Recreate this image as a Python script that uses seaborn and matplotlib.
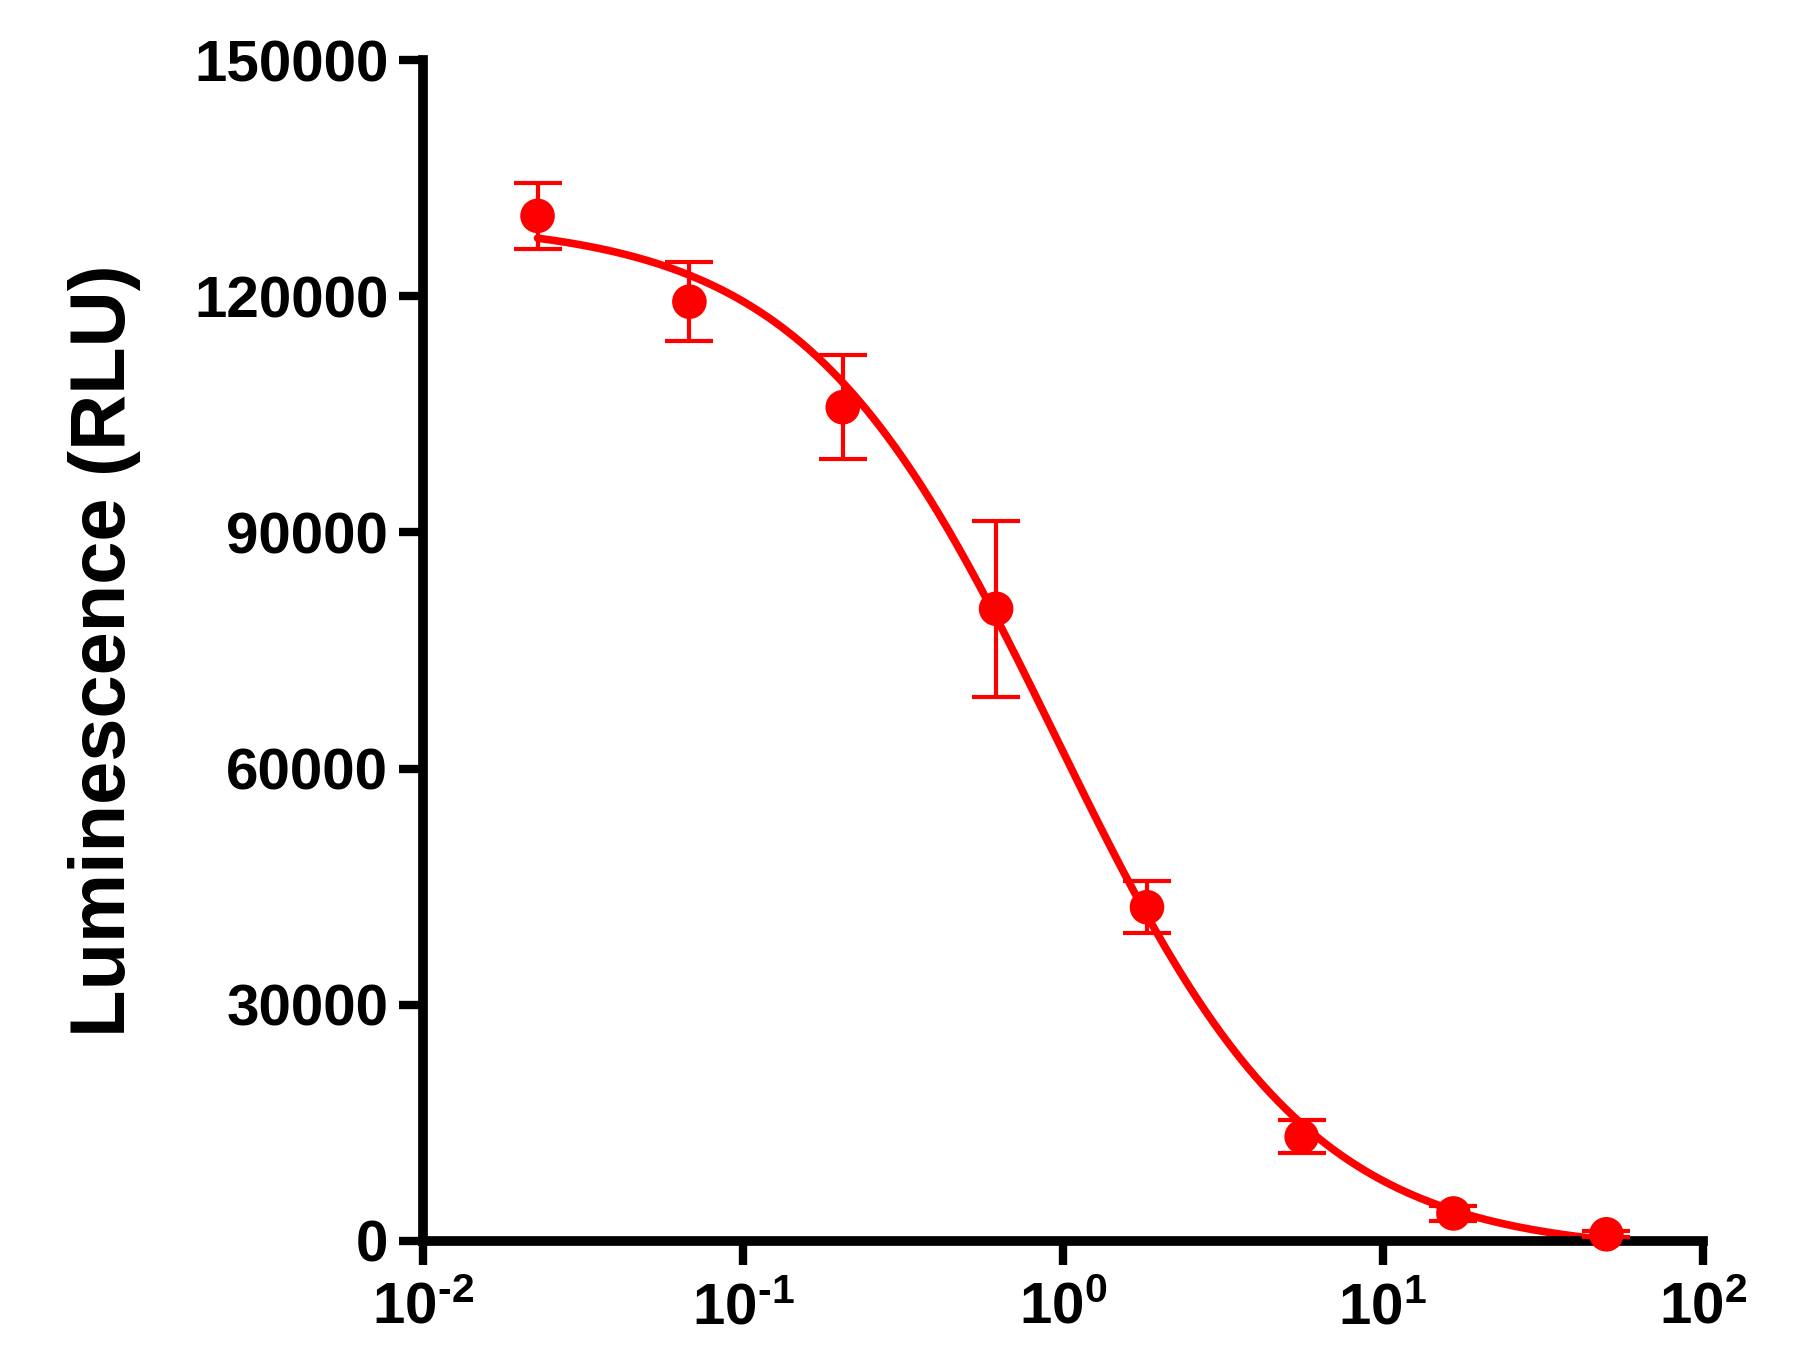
import numpy as np
import pandas as pd
import matplotlib
matplotlib.use("Agg")
import matplotlib.pyplot as plt
import seaborn as sns

# dose-response data
conc = [0.0228, 0.068, 0.205, 0.618, 1.83, 5.57, 16.6, 49.9]
rlu_mean = [130200, 119300, 105900, 80300, 42400, 13250, 3500, 850]
rlu_sd = [4200, 5000, 6570, 11200, 3300, 2100, 900, 400]

# 4PL fit parameters (top, bottom, IC50, hill) estimated from the drawn curve
fit_top = 129500
fit_bottom = -1500
fit_ic50 = 0.95
fit_hill = 1.1

y_ticks = [0, 30000, 60000, 90000, 120000, 150000]
x_ticks = [1e-2, 1e-1, 1e0, 1e1, 1e2]
x_ticklabels = [r"$10^{\text{-2}}$", r"$10^{\text{-1}}$", r"$10^{0}$",
                r"$10^{1}$", r"$10^{2}$"]

RED = "#FF0000"

sns.set_style("ticks")
plt.rcParams["font.family"] = ["Liberation Sans", "DejaVu Sans"]
plt.rcParams["font.weight"] = "bold"
plt.rcParams["mathtext.fontset"] = "custom"
plt.rcParams["mathtext.rm"] = "Liberation Sans:bold"
plt.rcParams["mathtext.it"] = "Liberation Sans:bold"
plt.rcParams["mathtext.bf"] = "Liberation Sans:bold"
for key in ["text.color", "axes.labelcolor", "xtick.color", "ytick.color",
            "xtick.labelcolor", "ytick.labelcolor"]:
    plt.rcParams[key] = "black"

df = pd.DataFrame({"conc": conc, "rlu": rlu_mean, "sd": rlu_sd})

xs = np.logspace(np.log10(conc[0]), np.log10(conc[-1]), 300)
fit = pd.DataFrame({
    "conc": xs,
    "rlu": fit_bottom + (fit_top - fit_bottom) / (1 + (xs / fit_ic50) ** fit_hill),
})

fig = plt.figure(figsize=(18, 13.5), dpi=100)
ax = fig.add_axes([423 / 1800, 1 - 1241 / 1350, 1280 / 1800, 1181 / 1350])

sns.lineplot(data=fit, x="conc", y="rlu", ax=ax, color=RED, lw=5.5, zorder=2)
ax.errorbar(df["conc"], df["rlu"], yerr=df["sd"], fmt="none", ecolor=RED,
            elinewidth=3, capsize=17, capthick=3, zorder=3, clip_on=False)
sns.scatterplot(data=df, x="conc", y="rlu", ax=ax, color=RED, s=620,
                edgecolor="none", zorder=4, clip_on=False)

ax.set_xscale("log")
ax.set_xlim(1e-2, 1e2)
ax.set_ylim(0, 150000)
ax.set_xticks(x_ticks)
ax.set_xticklabels(x_ticklabels)
ax.xaxis.set_minor_locator(matplotlib.ticker.NullLocator())
ax.set_yticks(y_ticks)
ax.set_yticklabels([str(v) for v in y_ticks])

sns.despine(ax=ax)
for side in ["left", "bottom"]:
    ax.spines[side].set_linewidth(7)
    ax.spines[side].set_color("black")
ax.tick_params(axis="both", which="major", length=17, width=6, color="black",
               labelcolor="black", labelsize=42, direction="out")
ax.tick_params(axis="y", pad=8)
ax.tick_params(axis="x", pad=12)
for lab in ax.get_yticklabels():
    lab.set_fontweight("bold")

ax.set_xlabel("")
ax.set_ylabel("Luminescence (RLU)", fontsize=56, fontweight="bold", color="black")
ax.yaxis.set_label_coords(-0.22, 0.5)

fig.savefig("out.png", dpi=100)
plt.close(fig)
